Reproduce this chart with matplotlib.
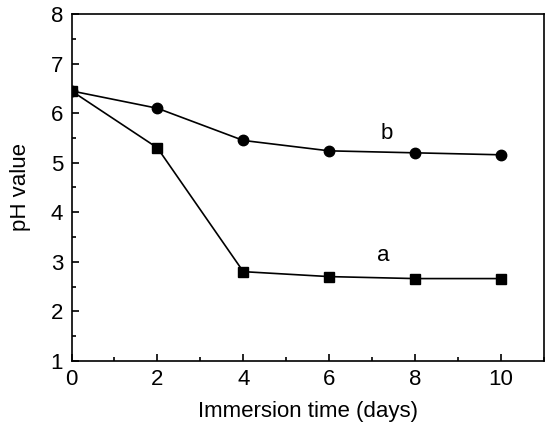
import matplotlib
matplotlib.use('Agg')
import matplotlib.pyplot as plt
from matplotlib.ticker import MultipleLocator

plt.rcParams['font.family'] = ['Liberation Sans', 'DejaVu Sans']

days = [0, 2, 4, 6, 8, 10]
ph_a = [6.45, 5.30, 2.80, 2.70, 2.66, 2.66]
ph_b = [6.45, 6.10, 5.45, 5.24, 5.20, 5.16]

fig = plt.figure(figsize=(5.5, 4.3), dpi=100)
ax = fig.add_axes([0.130, 0.161, 0.859, 0.806])

ax.plot(days, ph_a, color='black', lw=1.2, marker='s', ms=6.5)
ax.plot(days, ph_b, color='black', lw=1.2, marker='o', ms=7.5)

ax.text(7.25, 3.12, 'a', fontsize=16, ha='center', va='center')
ax.text(7.34, 5.6, 'b', fontsize=16, ha='center', va='center')

ax.set_xlim(0, 11)
ax.set_ylim(1, 8)
ax.xaxis.set_major_locator(MultipleLocator(2))
ax.xaxis.set_minor_locator(MultipleLocator(1))
ax.yaxis.set_major_locator(MultipleLocator(1))
ax.yaxis.set_minor_locator(MultipleLocator(0.5))
ax.tick_params(which='both', direction='in', top=False, right=False, labelsize=16, width=1.2)
ax.tick_params(which='major', length=5, pad=6)
ax.tick_params(which='minor', length=3)
for s in ax.spines.values():
    s.set_linewidth(1.2)

ax.set_xlabel('Immersion time (days)', fontsize=16, labelpad=8)
ax.set_ylabel('pH value', fontsize=16, labelpad=14)

fig.savefig('out.png', dpi=100)
